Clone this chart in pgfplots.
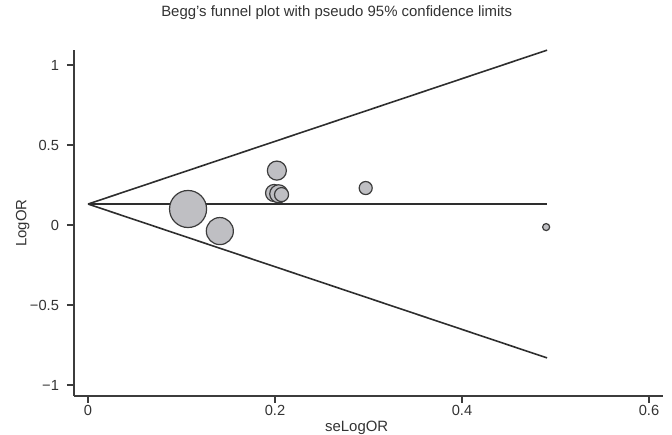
\documentclass[border=0pt]{standalone}
\usepackage{fontspec}
\setmainfont{Liberation Sans}
\usepackage{pgfplots}
\usepackage{pgfplotstable}
\pgfplotsset{compat=1.18}

\definecolor{bub}{HTML}{BFBFC3}
\definecolor{edge}{HTML}{3C3C3C}
\definecolor{ln}{HTML}{2E2E2E}
\definecolor{txt}{HTML}{333333}

% se, logOR, bubble radius (px in the reference)
\pgfplotstableread{
x y r
0.107 0.100 19
0.141 -0.038 14
0.202 0.340 10
0.199 0.200 9
0.204 0.195 9.5
0.207 0.190 7.5
0.297 0.231 7
0.490 -0.013 4
}\studies

\begin{document}
\begin{tikzpicture}
\begin{axis}[
  at={(0,0)}, anchor=south west,
  scale only axis, width=441.75pt, height=259.5pt,
  xmin=-0.015, xmax=0.615, ymin=-1.069, ymax=1.094,
  axis lines=left,
  axis line style={-, edge, line width=0.9pt},
  tick align=outside, major tick length=5.25pt,
  tick style={edge, line width=0.9pt},
  xtick={0,0.2,0.4,0.6}, xticklabels={0,0.2,0.4,0.6},
  ytick={-1,-0.5,0,0.5,1}, yticklabels={−1,−0.5,0,0.5,1},
  ticklabel style={font=\fontsize{11}{13}\selectfont, text=txt},
  xticklabel style={yshift=1.5pt},
  yticklabel style={xshift=-2.5pt},
  title={Begg's funnel plot with pseudo 95\% confidence limits},
  title style={at={(0.446,1.0723)}, anchor=base, text=txt,
    font=\fontsize{11.2}{13}\selectfont},
  xlabel={seLogOR},
  xlabel style={at={(0.480,-0.104)}, anchor=base, text=txt,
    font=\fontsize{11.2}{13}\selectfont},
  ylabel={LogOR},
  ylabel style={at={(-0.0869,0.5)}, anchor=center, text=txt,
    font=\fontsize{11.2}{13}\selectfont},
  clip=false,
]
\addplot[scatter, only marks, mark=*, line width=0.9pt,
  scatter/use mapped color={draw=edge, fill=bub},
  visualization depends on={0.75*\thisrow{r}-0.35 \as \rad},
  scatter/@pre marker code/.append style={/tikz/mark size=\rad}]
  table[x=x, y=y] {\studies};
\addplot[ln, line width=1.2pt] coordinates {(0,0.131) (0.491,0.131)};
\addplot[ln, line width=1.2pt] coordinates {(0,0.131) (0.491,1.093)};
\addplot[ln, line width=1.2pt] coordinates {(0,0.131) (0.491,-0.831)};
\end{axis}
\pgfresetboundingbox
\useasboundingbox (-55.5pt,-29.25pt) rectangle (448.5pt,297pt);
\end{tikzpicture}
\end{document}
